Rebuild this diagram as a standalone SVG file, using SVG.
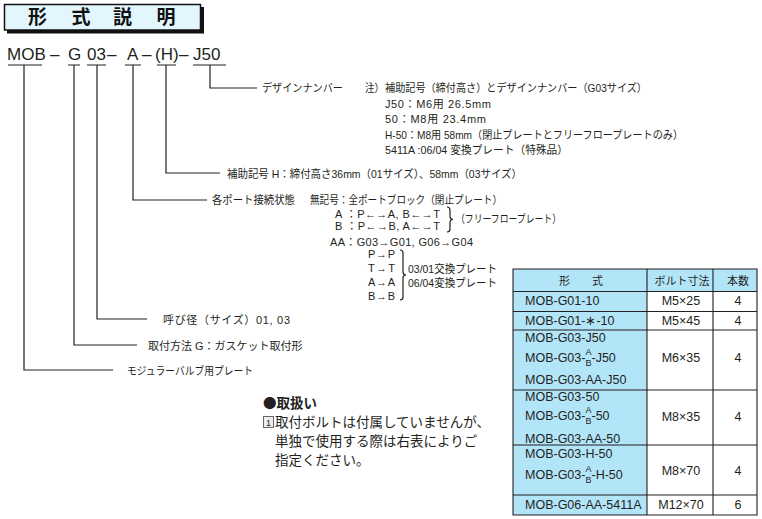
<svg xmlns="http://www.w3.org/2000/svg" width="762" height="519" viewBox="0 0 762 519">
<style>
.t{font-family:"Liberation Sans","Noto Sans CJK JP",sans-serif;font-size:11px;fill:#231f20}
.c{font-family:"Liberation Sans","Noto Sans CJK JP",sans-serif;font-size:17px;fill:#231f20}
.tb{font-family:"Liberation Sans","Noto Sans CJK JP",sans-serif;font-size:12.5px;fill:#231f20}
.th{font-family:"Noto Sans CJK JP",sans-serif;font-size:11px;fill:#231f20}
.sm{font-size:9px}
.n{font-family:"Noto Sans CJK JP",sans-serif;font-size:13.5px;fill:#231f20}
.ttl{font-family:"Noto Sans CJK JP",sans-serif;font-size:19px;font-weight:bold;fill:#111}
.ln{stroke:#231f20;stroke-width:1.2;fill:none}
.tl{stroke:#231f20;stroke-width:1.1;fill:none}
.m{text-anchor:middle}
.blue{fill:#b3e5f9}
</style>
<rect width="762" height="519" fill="#fff"/>

<g id="title">
<rect x="7" y="7" width="197" height="26.5" fill="#111"/>
<rect x="4.5" y="4.5" width="196" height="25.5" fill="#e4f6fd" stroke="#111" stroke-width="1.5"/>
<text class="ttl m" x="37.5" y="23.5">形</text>
<text class="ttl m" x="81" y="23.5">式</text>
<text class="ttl m" x="122.5" y="23.5">説</text>
<text class="ttl m" x="166" y="23.5">明</text>
</g>

<g id="model-code">
<text class="c" x="7" y="60">MOB</text>
<text class="c" x="50" y="60">–</text>
<text class="c" x="68" y="60">G</text>
<text class="c" x="87" y="60">03</text>
<text class="c" x="107" y="60">–</text>
<text class="c" x="127" y="60">A</text>
<text class="c" x="142" y="60">–</text>
<text class="c" x="155" y="60">(H)</text>
<text class="c" x="179" y="60">–</text>
<text class="c" x="193" y="60">J50</text>
</g>

<g id="connectors">
<path class="ln" d="M8,65H42M68,65H80M87,65H106M125,65H141M157,65H176M193,65H226"/>
<path class="ln" d="M210,65V88H257"/>
<path class="ln" d="M166,65V173H220"/>
<path class="ln" d="M133,65V200H207"/>
<path class="ln" d="M97,65V319H147"/>
<path class="ln" d="M74,65V345H137"/>
<path class="ln" d="M24,65V370H113"/>
<path class="ln" d="M447,207Q450,207 450,210L450,216.5Q450,219.5 453,219.5Q450,219.5 450,222.5L450,229Q450,232 447,232"/>
<path class="ln" d="M400,250Q403,250 403,253L403,272Q403,275 406,275Q403,275 403,278L403,297Q403,300 400,300"/>
</g>

<g id="design-number">
<text class="t" x="262" y="92" textLength="81" lengthAdjust="spacingAndGlyphs">デザインナンバー</text>
<text class="t" x="365" y="92" textLength="19" lengthAdjust="spacingAndGlyphs">注）</text>
<text class="t" x="385" y="92" textLength="262" lengthAdjust="spacingAndGlyphs">補助記号（締付高さ）とデザインナンバー（G03サイズ）</text>
<text class="t" x="385" y="107.5" textLength="106" lengthAdjust="spacing">J50：M6用 26.5mm</text>
<text class="t" x="385" y="123" textLength="101" lengthAdjust="spacing">50：M8用 23.4mm</text>
<text class="t" x="385" y="138.5" textLength="298" lengthAdjust="spacingAndGlyphs">H-50：M8用 58mm（閉止プレートとフリーフロープレートのみ）</text>
<text class="t" x="385" y="154" textLength="183" lengthAdjust="spacingAndGlyphs">5411A :06/04 変換プレート（特殊品）</text>
</g>

<g id="aux-symbol">
<text class="t" x="227" y="177.5" textLength="295" lengthAdjust="spacingAndGlyphs">補助記号 H：締付高さ36mm（01サイズ）、58mm（03サイズ）</text>
</g>

<g id="port-connection">
<text class="t" x="212" y="204" textLength="83" lengthAdjust="spacingAndGlyphs">各ポート接続状態</text>
<text class="t" x="310" y="204" textLength="192" lengthAdjust="spacingAndGlyphs">無記号：全ポートブロック（閉止プレート）</text>
<text class="t" x="335" y="218" textLength="105" lengthAdjust="spacing">A ：P←→A, B←→T</text>
<text class="t" x="335" y="230" textLength="105" lengthAdjust="spacing">B ：P←→B, A←→T</text>
<text class="t" x="456" y="223" textLength="105" lengthAdjust="spacingAndGlyphs">（フリーフロープレート）</text>
<text class="t" x="330" y="246" textLength="143" lengthAdjust="spacing">AA：G03→G01, G06→G04</text>
<text class="t" x="368" y="258" textLength="27" lengthAdjust="spacing">P→P</text>
<text class="t" x="368" y="272" textLength="27" lengthAdjust="spacing">T→T</text>
<text class="t" x="368" y="286" textLength="27" lengthAdjust="spacing">A→A</text>
<text class="t" x="368" y="300" textLength="27" lengthAdjust="spacing">B→B</text>
<text class="t" x="408" y="272.5" textLength="89" lengthAdjust="spacingAndGlyphs">03/01交換プレート</text>
<text class="t" x="408" y="286.5" textLength="89" lengthAdjust="spacingAndGlyphs">06/04変換プレート</text>
</g>

<g id="size">
<text class="t" x="163" y="323.5" textLength="127" lengthAdjust="spacing">呼び径（サイズ）01, 03</text>
</g>
<g id="mounting">
<text class="t" x="148" y="349.5">取付方法 G：ガスケット取付形</text>
</g>
<g id="plate">
<text class="t" x="127" y="374.5" textLength="126" lengthAdjust="spacingAndGlyphs">モジュラーバルブ用プレート</text>
</g>

<g id="handling-note">
<text class="n" x="263" y="407.5" font-weight="bold">●取扱い</text>
<rect x="263.5" y="416.5" width="10" height="11" fill="#eeeeee" stroke="#666" stroke-width="1"/>
<text class="t m" x="268.5" y="425.5" style="font-size:9px">1</text>
<text class="n" x="275" y="427">取付ボルトは付属していませんが、</text>
<text class="n" x="275" y="446">単独で使用する際は右表によりご</text>
<text class="n" x="275" y="465">指定ください。</text>
</g>

<g id="bolt-table">
<rect class="blue" x="513" y="269" width="244" height="22.5"/>
<rect class="blue" x="513" y="291.5" width="134" height="223.5"/>
<path class="tl" d="M513,269H757V515H513Z M647,269V515 M713,269V515 M513,291.5H757 M513,311.5H757 M513,330H757 M513,390H757 M513,445H757 M513,495H757"/>
<text class="th m" x="581" y="285">形　　式</text>
<text class="th m" x="682" y="285">ボルト寸法</text>
<text class="th m" x="738" y="285">本数</text>

<text class="tb" x="525" y="305">MOB-G01-10</text>
<text class="tb m" x="681" y="305">M5×25</text>
<text class="tb m" x="738" y="305">4</text>

<text class="tb" x="525" y="325">MOB-G01-∗-10</text>
<text class="tb m" x="681" y="325">M5×45</text>
<text class="tb m" x="738" y="325">4</text>

<text class="tb" x="525" y="342">MOB-G03-J50</text>
<text class="tb" x="525" y="362">MOB-G03-<tspan class="sm" dy="-7">A</tspan><tspan class="sm" dx="-6" dy="10.5">B</tspan><tspan dy="-3.5">-J50</tspan></text>
<text class="tb" x="525" y="384">MOB-G03-AA-J50</text>
<text class="tb m" x="681" y="362">M6×35</text>
<text class="tb m" x="738" y="362">4</text>

<text class="tb" x="525" y="401">MOB-G03-50</text>
<text class="tb" x="525" y="420">MOB-G03-<tspan class="sm" dy="-7">A</tspan><tspan class="sm" dx="-6" dy="10.5">B</tspan><tspan dy="-3.5">-50</tspan></text>
<text class="tb" x="525" y="443">MOB-G03-AA-50</text>
<text class="tb m" x="681" y="421">M8×35</text>
<text class="tb m" x="738" y="421">4</text>

<text class="tb" x="525" y="458">MOB-G03-H-50</text>
<text class="tb" x="525" y="479">MOB-G03-<tspan class="sm" dy="-7">A</tspan><tspan class="sm" dx="-6" dy="10.5">B</tspan><tspan dy="-3.5">-H-50</tspan></text>
<text class="tb m" x="681" y="475">M8×70</text>
<text class="tb m" x="738" y="475">4</text>

<text class="tb" x="525" y="509">MOB-G06-AA-5411A</text>
<text class="tb m" x="681" y="509">M12×70</text>
<text class="tb m" x="738" y="509">6</text>
</g>
</svg>
